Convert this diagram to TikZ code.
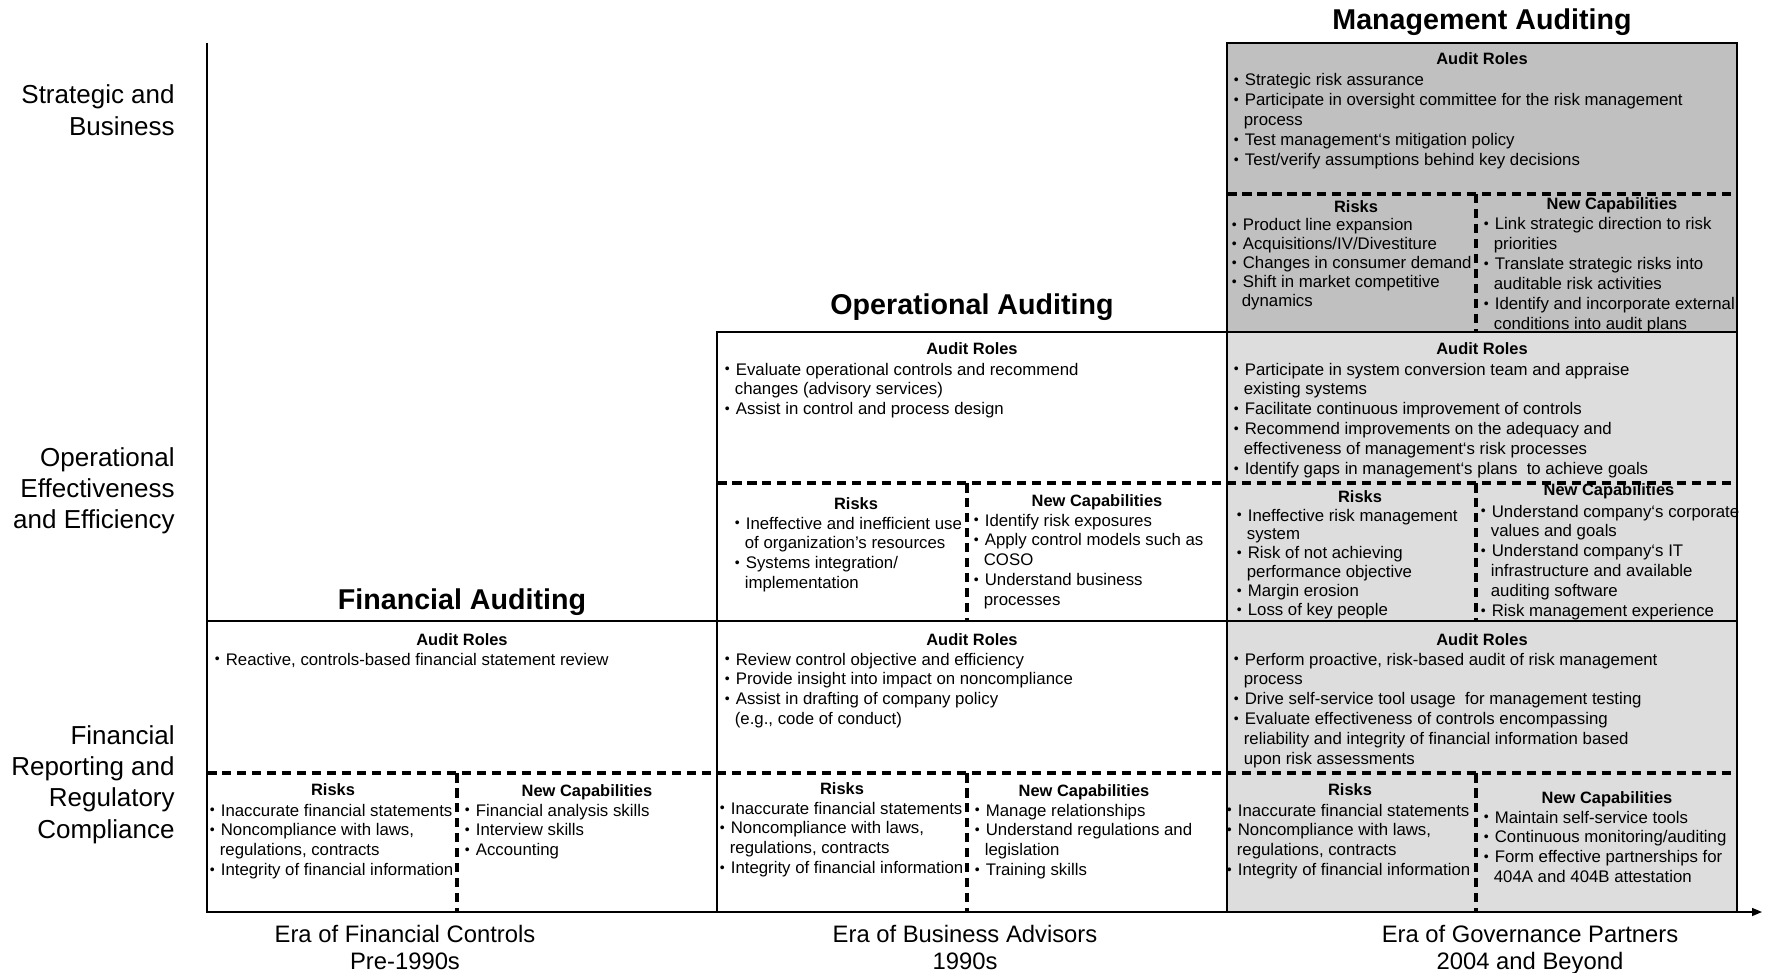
\documentclass[tikz,border=0pt]{standalone}
\usepackage{fontspec}
\setmainfont{Liberation Sans}
\usetikzlibrary{arrows.meta}
\definecolor{mgmtgray}{RGB}{192,192,192}
\definecolor{govgray}{RGB}{221,221,221}
\newcommand{\tlist}[2]{\begin{tabular}[t]{@{}#1@{}}#2\end{tabular}}
\newcommand{\blist}[1]{\tlist{l}{#1}}
\newcommand{\bu}{\makebox[0.23cm][l]{\hspace*{0.01cm}\raisebox{0.12ex}{\fontsize{8}{8}\selectfont\textbullet}}}
\newcommand{\cn}{\hspace*{0.21cm}}
\begin{document}
\begin{tikzpicture}[x=0.02cm,y=-0.02cm,
    frame/.style={line width=1.4pt},
    sep/.style={line width=1.8pt,dash pattern=on 0.19cm off 0.11cm},
    axis/.style={line width=0.8pt},
    title/.style={anchor=base,inner sep=0pt,font=\fontsize{16.3}{19}\selectfont\bfseries},
    head/.style={anchor=base,inner sep=0pt,font=\fontsize{9.35}{11}\selectfont\bfseries},
    items/.style={anchor=base west,inner sep=0pt,font=\fontsize{9.56}{11.38}\selectfont},
    tight/.style={font=\fontsize{9.56}{10.75}\selectfont},
    side/.style={anchor=base east,inner sep=0pt,font=\fontsize{14.8}{17.9}\selectfont},
    era/.style={anchor=base,inner sep=0pt,font=\fontsize{13.55}{15.4}\selectfont}]
        \useasboundingbox (0,0) rectangle (1765,973);
        
        % Shading the governance column
        \fill [mgmtgray] (1227,43) rectangle (1737,332);%
        \fill [govgray] (1227,332) rectangle (1737,912);%
        
        % Drawing dashed separators
        \draw [sep] (1227,194) -- (1737,194);%
        \draw [sep] (1476,194) -- (1476,332);%
        \draw [sep] (717,483) -- (1737,483);%
        \draw [sep] (967,483) -- (967,621);%
        \draw [sep] (1476,483) -- (1476,621);%
        \draw [sep] (207,773) -- (1737,773);%
        \draw [sep] (457,773) -- (457,912);%
        \draw [sep] (967,773) -- (967,912);%
        \draw [sep] (1476,773) -- (1476,912);%
        
        % Drawing frames of the three eras
        \draw [frame] (207,621) rectangle (717,912);%
        \draw [frame] (717,332) rectangle (1227,912);%
        \draw [frame] (1227,43) rectangle (1737,912);%
        \draw [frame] (717,621) -- (1737,621);%
        \draw [frame] (1227,332) -- (1737,332);%
        
        % Drawing axes
        \draw [axis] (207,43) -- (207,912);%
        \draw [axis,-{Triangle[length=0.2cm,width=0.16cm]}] (207,912) -- (1762,912);%
        
        % Labels of the levels
        \node (lvStrat) [side] at (175,104) {\tlist{r}{Strategic and\\Business}};%
        \node (lvOper) [side] at (175,466) {\tlist{r}{Operational\\Effectiveness\\and Efficiency}};%
        \node (lvFin) [side] at (175,744) {\tlist{r}{Financial\\Reporting and\\Regulatory\\Compliance}};%
        
        % Labels of the eras
        \node (eraFin) [era] at (405,942) {\tlist{c}{Era of Financial Controls\\Pre-1990s}};%
        \node (eraBus) [era] at (965,942) {\tlist{c}{Era of Business Advisors\\1990s}};%
        \node (eraGov) [era] at (1530,942) {\tlist{c}{Era of Governance Partners\\2004 and Beyond}};%
        
        % Titles
        \node (tMgmt) [title] at (1482,30) {Management Auditing};%
        \node (tOper) [title] at (972,315) {Operational Auditing};%
        \node (tFin) [title] at (462,609) {Financial Auditing};%
        
        % Management auditing, strategic level
        \node (mgRolesHd) [head] at (1482,65) {Audit Roles};%
        \node (mgRoles) [items] at (1233,86) {\blist{\bu Strategic risk assurance\\
            \bu Participate in oversight committee for the risk management\\
            \cn process\\
            \bu Test management‘s mitigation policy\\
            \bu Test/verify assumptions behind key decisions}};%
        \node (mgRisksHd) [head] at (1356,213) {Risks};%
        \node (mgRisks) [items,tight] at (1231,231) {\blist{\bu Product line expansion\\
            \bu Acquisitions/IV/Divestiture\\
            \bu Changes in consumer demand\\
            \bu Shift in market competitive\\
            \cn dynamics}};%
        \node (mgCapsHd) [head] at (1612,210) {New Capabilities};%
        \node (mgCaps) [items] at (1483,230) {\blist{\bu Link strategic direction to risk\\
            \cn priorities\\
            \bu Translate strategic risks into\\
            \cn auditable risk activities\\
            \bu Identify and incorporate external\\
            \cn conditions into audit plans}};%
        
        % Management auditing, operational level
        \node (goRolesHd) [head] at (1482,355) {Audit Roles};%
        \node (goRoles) [items] at (1233,375) {\blist{\bu Participate in system conversion team and appraise\\
            \cn existing systems\\
            \bu Facilitate continuous improvement of controls\\
            \bu Recommend improvements on the adequacy and\\
            \cn effectiveness of management‘s risk processes\\
            \bu Identify gaps in management‘s plans~ to achieve goals}};%
        \node (goRisksHd) [head] at (1360,502) {Risks};%
        \node (goRisks) [items,tight] at (1236,521) {\blist{\bu Ineffective risk management\\
            \cn system\\
            \bu Risk of not achieving\\
            \cn performance objective\\
            \bu Margin erosion\\
            \bu Loss of key people}};%
        \node (goCapsHd) [head] at (1609,495) {New Capabilities};%
        \node (goCaps) [items] at (1480,517) {\blist{\bu Understand company‘s corporate\\
            \cn values and goals\\
            \bu Understand company‘s IT\\
            \cn infrastructure and available\\
            \cn auditing software\\
            \bu Risk management experience}};%
        
        % Operational auditing, operational level
        \node (boRolesHd) [head] at (972,355) {Audit Roles};%
        \node (boRoles) [items] at (724,375) {\blist{\bu Evaluate operational controls and recommend\\
            \cn changes (advisory services)\\
            \bu Assist in control and process design}};%
        \node (boRisksHd) [head] at (856,509) {Risks};%
        \node (boRisks) [items] at (734,529) {\blist{\bu Ineffective and inefficient use\\
            \cn of organization’s resources\\
            \bu Systems integration/\\
            \cn implementation}};%
        \node (boCapsHd) [head] at (1097,506) {New Capabilities};%
        \node (boCaps) [items] at (973,526) {\blist{\bu Identify risk exposures\\
            \bu Apply control models such as\\
            \cn COSO\\
            \bu Understand business\\
            \cn processes}};%
        
        % Financial auditing, financial level
        \node (frRolesHd) [head] at (462,645) {Audit Roles};%
        \node (frRoles) [items] at (214,665) {\blist{\bu Reactive, controls-based financial statement review}};%
        \node (frRisksHd) [head] at (333,795) {Risks};%
        \node (frRisks) [items] at (209,816) {\blist{\bu Inaccurate financial statements\\
            \bu Noncompliance with laws,\\
            \cn regulations, contracts\\
            \bu Integrity of financial information}};%
        \node (frCapsHd) [head] at (587,796) {New Capabilities};%
        \node (frCaps) [items] at (464,816) {\blist{\bu Financial analysis skills\\
            \bu Interview skills\\
            \bu Accounting}};%
        
        % Operational auditing, financial level
        \node (bfRolesHd) [head] at (972,645) {Audit Roles};%
        \node (bfRoles) [items] at (724,665) {\blist{\bu Review control objective and efficiency\\
            \bu Provide insight into impact on noncompliance\\
            \bu Assist in drafting of company policy\\
            \cn (e.g., code of conduct)}};%
        \node (bfRisksHd) [head] at (842,794) {Risks};%
        \node (bfRisks) [items] at (719,814) {\blist{\bu Inaccurate financial statements\\
            \bu Noncompliance with laws,\\
            \cn regulations, contracts\\
            \bu Integrity of financial information}};%
        \node (bfCapsHd) [head] at (1084,796) {New Capabilities};%
        \node (bfCaps) [items] at (974,816) {\blist{\bu Manage relationships\\
            \bu Understand regulations and\\
            \cn legislation\\
            \bu Training skills}};%
        
        % Management auditing, financial level
        \node (gfRolesHd) [head] at (1482,645) {Audit Roles};%
        \node (gfRoles) [items] at (1233,665) {\blist{\bu Perform proactive, risk-based audit of risk management\\
            \cn process\\
            \bu Drive self-service tool usage~ for management testing\\
            \bu Evaluate effectiveness of controls encompassing\\
            \cn reliability and integrity of financial information based\\
            \cn upon risk assessments}};%
        \node (gfRisksHd) [head] at (1350,795) {Risks};%
        \node (gfRisks) [items] at (1226,816) {\blist{\bu Inaccurate financial statements\\
            \bu Noncompliance with laws,\\
            \cn regulations, contracts\\
            \bu Integrity of financial information}};%
        \node (gfCapsHd) [head] at (1607,803) {New Capabilities};%
        \node (gfCaps) [items] at (1483,823) {\blist{\bu Maintain self-service tools\\
            \bu Continuous monitoring/auditing\\
            \bu Form effective partnerships for\\
            \cn 404A and 404B attestation}};%
\end{tikzpicture}
\end{document}
